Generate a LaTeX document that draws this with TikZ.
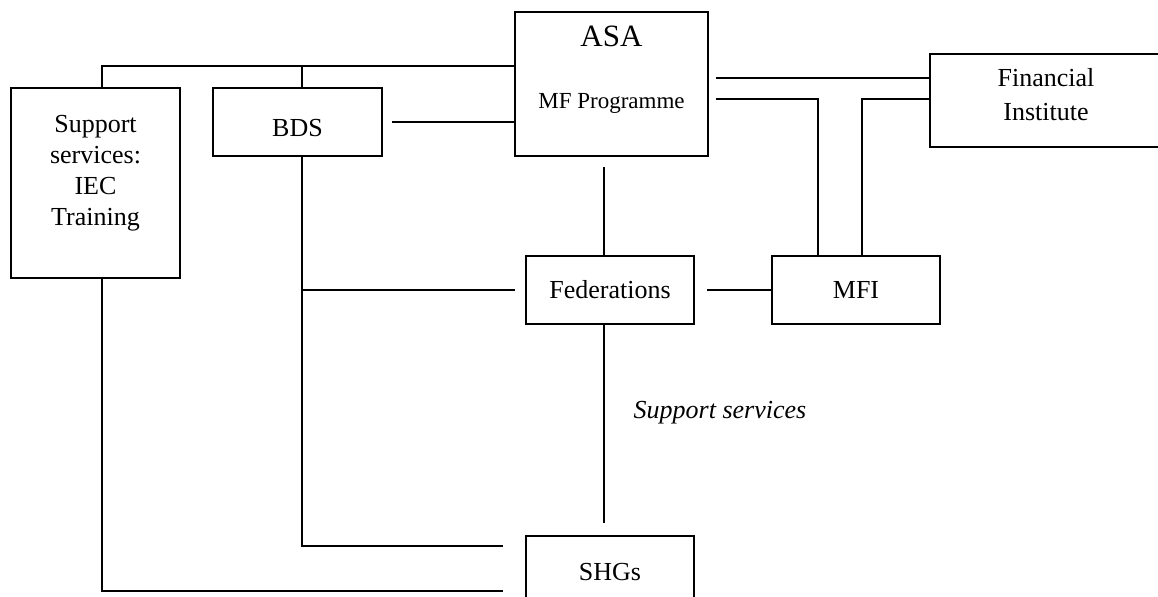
\documentclass[tikz,border=0pt]{standalone}
\usepackage{fontspec}
\setmainfont{Liberation Serif}
\usetikzlibrary{positioning,calc}

\begin{document}
\begin{tikzpicture}[
      x=0.5pt, y=-0.5pt,
      box/.style={draw, line width=0.8pt, inner sep=0pt,
        font=\fontsize{13}{15.5}\selectfont, align=center},
      lbl/.style={font=\fontsize{13}{17}\selectfont, align=center},
      line width=0.8pt
      ]
      \useasboundingbox (0,0) rectangle (1158,597);

      % boxes
      \node[box, minimum width=84.5pt, minimum height=95pt,
        label={[lbl, font=\fontsize{13}{15.5}\selectfont, yshift=5pt]center:Support\\services:\\IEC\\Training}]
        (sup) at (95.5,183) {};
      \node[box, minimum width=84.5pt, minimum height=34pt] (bds) at (297.5,122) {};
      \node[lbl, yshift=-3pt] at (bds.center) {BDS};
      \node[box, minimum width=96.5pt, minimum height=72pt,
        label={[font=\fontsize{15.5}{18}\selectfont, yshift=24pt]center:ASA},
        label={[font=\fontsize{11.5}{14}\selectfont, yshift=-9.5pt]center:MF Programme}]
        (asa) at (611.5,84) {};
      \node[box, minimum width=116pt, minimum height=46.5pt,
        label={[lbl, yshift=2.75pt]center:Financial\\Institute}]
        (fin) at (1046,100.5) {};
      \node[box, minimum width=84pt, minimum height=34pt] (fed) at (610,290) {Federations};
      \node[box, minimum width=84pt, minimum height=34pt] (mfi) at (856,290) {MFI};
      \node[box, minimum width=84pt, minimum height=36pt] (shg) at (610,572) {SHGs};
      \node[lbl, font=\fontsize{13}{15}\selectfont\itshape] (ss) at (720,413) {Support services};

      % bends and free ends
      \coordinate (j1) at (102,66);
      \coordinate (j2) at (302,66);
      \coordinate (f1) at ([yshift=11.25pt]fin.west);
      \coordinate (f2) at ([yshift=0.75pt]fin.west);
      \coordinate (m1) at (818,99);
      \coordinate (m2) at (862,99);
      \coordinate (a1) at ([xshift=-3pt]fed.north);

      % connect the boxes
      \draw ([xshift=3.25pt]sup.north) -- (j1) -- (j1 -| asa.west);
      \draw ([xshift=2.25pt]bds.north) -- (j2);
      \draw ([xshift=4.75pt]bds.east) -- (asa.west |- bds.east);
      \draw ([yshift=-5pt]a1 |- asa.south) -- (a1);
      \draw (f1) -- ([xshift=3.5pt]asa.east |- f1);
      \draw ([xshift=3.5pt]asa.east |- f2) -- (m1) -- (m1 |- mfi.north);
      \draw (f2) -- (m2) -- (m2 |- mfi.north);
      \draw ([xshift=6pt]fed.east) -- (mfi.west);
      \draw ([xshift=2.25pt]bds.south) |- ([xshift=-11pt,yshift=13pt]shg.west);
      \draw ([xshift=2.25pt]bds.south |- fed.west) -- ([xshift=-5pt]fed.west);
      \draw ([xshift=3.25pt]sup.south) |- ([xshift=-11pt,yshift=-9.5pt]shg.west);
      \draw ([xshift=-3pt]fed.south) -- ([xshift=-3pt,yshift=6pt]shg.north);

\end{tikzpicture}
\end{document}
